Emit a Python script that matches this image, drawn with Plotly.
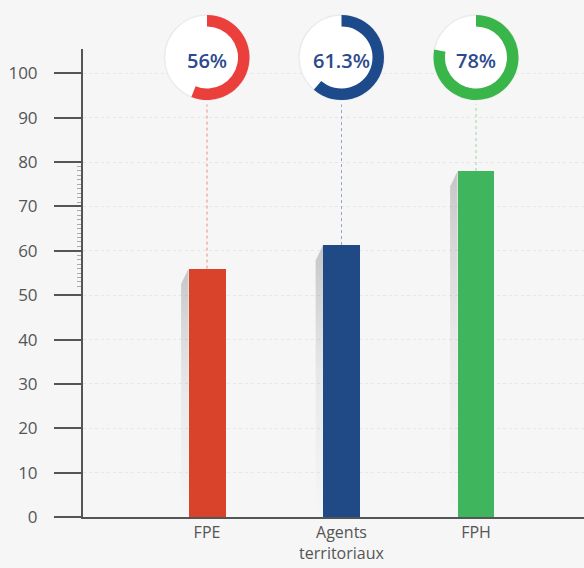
import plotly.graph_objects as go

# ---- data ----
categories = ["FPE", "Agents<br>territoriaux", "FPH"]
values = [56, 61.3, 78]
pct_labels = ["56%", "61.3%", "78%"]
bar_colors = ["#d9432b", "#1f4a86", "#3fb55e"]
ring_colors = ["#ea3f3a", "#1d4a8a", "#39b54a"]
dot_colors = ["#f08a86", "#8fa6c8", "#9fd5a8"]
y_ticks = [0, 10, 20, 30, 40, 50, 60, 70, 80, 90, 100]
minor_ticks = [v for v in range(52, 80) if v not in (60, 70)]

# ---- layout constants ----
W, H = 584, 568
B = 51
PH = H - B            # paper plot height in px
AX_X0 = 83            # y axis position px
X_RANGE = [-0.922, 2.803]
Y_RANGE = [0, 105.5]
Y_TOP_PX = 49
CONNECTOR_TOP = 93
DONUT_CY = 57.5
DONUT_R = 42.5
BAR_W = 0.275
SHADOW_W = 0.055
SHADOW_DROP = 3.5
FONT = "Open Sans"
BG = "#f6f6f6"

xs = list(range(len(categories)))

fig = go.Figure()

# soft shadows left of bars
for x, v in zip(xs, values):
    left = x - BAR_W / 2
    fig.add_trace(go.Scatter(
        x=[left - SHADOW_W, left, left, left - SHADOW_W],
        y=[0, 0, v, v - SHADOW_DROP],
        mode="lines", line=dict(width=0), fill="toself",
        fillgradient=dict(type="vertical",
                          colorscale=[[0, "rgba(140,140,140,0)"],
                                      [0.5, "rgba(140,140,140,0.12)"],
                                      [1, "rgba(120,120,120,0.38)"]]),
        hoverinfo="skip", showlegend=False))

# main bars
fig.add_trace(go.Bar(
    x=xs, y=values, width=BAR_W,
    marker=dict(color=bar_colors, line=dict(width=0)),
    showlegend=False))

# dotted connectors
for x, v, col in zip(xs, values, dot_colors):
    fig.add_trace(go.Scatter(
        x=[x, x], y=[v, CONNECTOR_TOP], mode="lines",
        line=dict(color=col, width=1, dash="dot"),
        hoverinfo="skip", showlegend=False))

# donuts
plot_w = W - AX_X0
for i, (v, col, lab) in enumerate(zip(values, ring_colors, pct_labels)):
    cx = AX_X0 + (i - X_RANGE[0]) / (X_RANGE[1] - X_RANGE[0]) * plot_w
    dom_x = [(cx - DONUT_R) / W, (cx + DONUT_R) / W]
    dom_y = [(PH - DONUT_CY - DONUT_R) / PH, (PH - DONUT_CY + DONUT_R) / PH]
    fig.add_trace(go.Pie(
        values=[1], marker=dict(colors=["white"], line=dict(color="#ebebeb", width=1.5)),
        domain=dict(x=dom_x, y=dom_y), textinfo="none", hoverinfo="skip",
        showlegend=False, sort=False))
    fig.add_trace(go.Pie(
        values=[v, 100 - v], marker=dict(colors=[col, "rgba(255,255,255,0)"], line=dict(width=0)),
        hole=0.73, domain=dict(x=dom_x, y=dom_y), textinfo="none",
        direction="clockwise", rotation=0, sort=False, hoverinfo="skip",
        showlegend=False))
    fig.add_annotation(
        x=(dom_x[0] + dom_x[1]) / 2, xref="paper", xanchor="center",
        y=(PH - DONUT_CY - 3) / PH, yref="paper", yanchor="middle",
        text=lab, showarrow=False,
        font=dict(family=FONT, size=20, color="#2c4a8c", weight=600))

fig.update_layout(
    width=W, height=H,
    margin=dict(l=0, r=0, t=0, b=B, autoexpand=False),
    paper_bgcolor=BG, plot_bgcolor=BG,
    bargap=0,
    font=dict(family=FONT, color="#555555"),
    xaxis=dict(
        domain=[AX_X0 / W, 1], range=X_RANGE,
        tickvals=xs, ticktext=categories,
        showline=True, linecolor="#555555", linewidth=2,
        ticks="", showgrid=False, zeroline=False,
        tickfont=dict(family=FONT, size=16, color="#555555"),
        fixedrange=True),
    yaxis=dict(
        domain=[0, (PH - Y_TOP_PX) / PH], range=Y_RANGE,
        tickvals=y_ticks, ticktext=[str(t) for t in y_ticks],
        ticks="outside", ticklen=27, tickwidth=2, tickcolor="#555555",
        ticklabelstandoff=13,
        showline=True, linecolor="#555555", linewidth=2,
        showgrid=True, gridcolor="#e6e6e6", griddash="dot", gridwidth=1,
        zeroline=False,
        tickfont=dict(family=FONT, size=17, color="#555555"),
        minor=dict(tickvals=minor_ticks, ticks="outside", ticklen=4,
                   tickcolor="#aaaaaa", tickwidth=1, showgrid=False),
        fixedrange=True),
)

fig.write_html("out.html", config={"displayModeBar": False},
               post_script="document.body.style.margin='0px';")
